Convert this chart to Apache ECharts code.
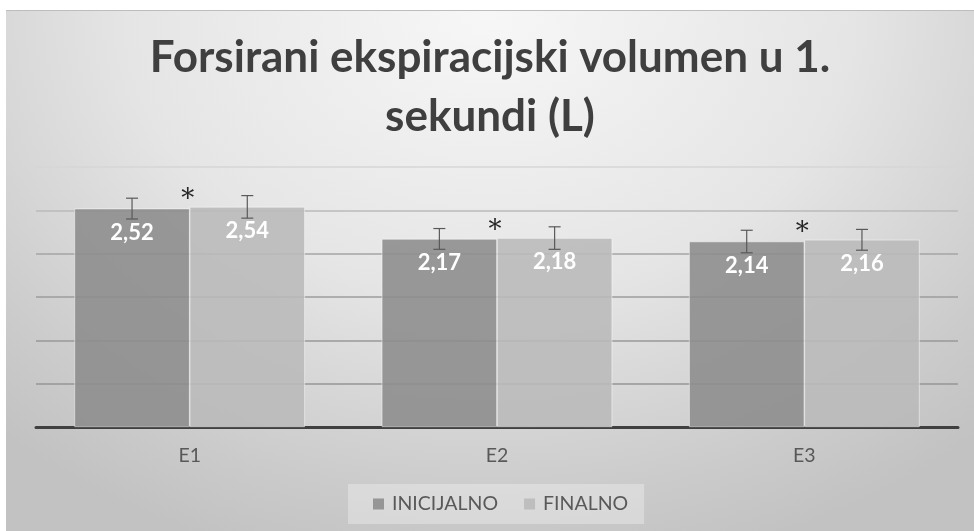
<!DOCTYPE html>
<html lang="hr">
<head>
  <meta charset="UTF-8">
  <title>FEV1</title>
  <script src="https://cdn.jsdelivr.net/npm/echarts@6/dist/echarts.min.js"></script>
  <style>
    html, body { margin: 0; padding: 0; background: #fff; }
    #panel {
      position: absolute; left: 6px; top: 10px; width: 968px; height: 521px;
      border-top: 1px solid #bdbdbd; box-sizing: border-box;
      background: radial-gradient(ellipse 75% 110% at 50% 0%, #f7f7f7 0%, #e5e5e5 50%, #cbcbcb 85%, #c2c2c2 100%);
    }
    #main { width: 968px; height: 521px; }
  </style>
</head>
<body>
<div id="panel"><div id="main"></div></div>
<script type="text/javascript">

var categories = ['E1', 'E2', 'E3'];
var inicijalno = [2.52, 2.17, 2.14];
var finalno = [2.54, 2.18, 2.16];
// standardne devijacije (procjena iz slike)
var errInicijalno = [0.12, 0.12, 0.13];
var errFinalno = [0.13, 0.13, 0.12];
var zvjezdica = [true, true, true];
var yTicks = [0, 0.5, 1, 1.5, 2, 2.5, 3];

var myChart = echarts.init(document.getElementById('main'), null, { renderer: 'canvas' });

function fmt(v) {
  return v.toFixed(2).replace('.', ',');
}

// error bar (+ zvjezdica) za jednu seriju
function makeErrorRender(offsetFrac, withStar) {
  return function (params, api) {
    var idx = api.value(0);
    var val = api.value(1);
    var err = api.value(2);
    var band = api.size([1, 0])[0];
    var cx = api.coord([idx, val])[0] + band * offsetFrac;
    var yTop = api.coord([idx, val + err])[1];
    var yBot = api.coord([idx, val - err])[1];
    var style = { stroke: '#595959', lineWidth: 1.2 };
    var children = [
      { type: 'line', shape: { x1: cx, y1: yTop, x2: cx, y2: yBot }, style: style },
      { type: 'line', shape: { x1: cx - 6, y1: yTop, x2: cx + 6, y2: yTop }, style: style },
      { type: 'line', shape: { x1: cx - 6, y1: yBot, x2: cx + 6, y2: yBot }, style: style }
    ];
    if (withStar && zvjezdica[idx]) {
      var base = api.coord([idx, val]);
      children.push({
        type: 'text',
        style: {
          text: '*', x: base[0] - 2, y: base[1] - 8,
          fill: '#262626', font: '26px "DejaVu Serif"',
          align: 'center', verticalAlign: 'middle'
        }
      });
    }
    return { type: 'group', children: children };
  };
}

var option = {
  animation: false,
  backgroundColor: 'transparent',
  title: {
    text: 'Forsirani ekspiracijski volumen u 1.\nsekundi (L)',
    left: 'center',
    top: 12,
    padding: [5, 5, 5, 17],
    textStyle: {
      fontFamily: 'Lato',
      fontWeight: 'bold',
      fontSize: 44,
      lineHeight: 59,
      color: '#3f3f3f'
    }
  },
  legend: {
    data: ['INICIJALNO', 'FINALNO'],
    bottom: 8,
    left: 342,
    icon: 'rect',
    itemWidth: 11,
    itemHeight: 11,
    itemGap: 26,
    padding: [10, 16, 10, 25],
    backgroundColor: 'rgba(255,255,255,0.3)',
    itemStyle: { borderWidth: 0 },
    textStyle: { fontFamily: 'Lato', fontSize: 19.5, color: '#595959', padding: [0, 0, 0, 3] }
  },
  grid: { left: 30, right: 16, top: 156, bottom: 105 },
  xAxis: {
    type: 'category',
    data: categories,
    axisLine: { lineStyle: { color: '#404040', width: 3 } },
    axisTick: { show: false },
    axisLabel: { fontFamily: 'Lato', fontSize: 19.5, color: '#595959', margin: 19 }
  },
  yAxis: {
    type: 'value',
    min: yTicks[0],
    max: yTicks[yTicks.length - 1],
    interval: 0.5,
    axisLabel: { show: false },
    axisLine: { show: false },
    axisTick: { show: false },
    splitLine: {
      lineStyle: {
        color: ['#9a9a9a', '#969696', '#989898', '#9c9c9c', '#a4a4a4', '#bababa', '#d6d6d6'],
        width: 1.5
      }
    }
  },
  series: [
    {
      name: 'INICIJALNO',
      type: 'bar',
      data: inicijalno,
      barGap: '0%',
      barCategoryGap: '25%',
      itemStyle: { color: 'rgba(140,140,140,0.88)', borderColor: 'rgba(255,255,255,0.8)', borderWidth: 0.6 },
      label: {
        show: true, position: 'insideTop', distance: 13,
        formatter: function (p) { return fmt(p.value); },
        fontFamily: 'Lato', fontWeight: 'bold', fontSize: 22, color: '#fff'
      },
      z: 2
    },
    {
      name: 'FINALNO',
      type: 'bar',
      data: finalno,
      itemStyle: { color: 'rgba(185,185,185,0.88)', borderColor: 'rgba(255,255,255,0.8)', borderWidth: 0.6 },
      label: {
        show: true, position: 'insideTop', distance: 13,
        formatter: function (p) { return fmt(p.value); },
        fontFamily: 'Lato', fontWeight: 'bold', fontSize: 22, color: '#fff'
      },
      z: 2
    },
    {
      name: 'errInicijalno',
      type: 'custom',
      renderItem: makeErrorRender(-0.1875, true),
      data: inicijalno.map(function (v, i) { return [i, v, errInicijalno[i]]; }),
      z: 5,
      silent: true
    },
    {
      name: 'errFinalno',
      type: 'custom',
      renderItem: makeErrorRender(0.1875, false),
      data: finalno.map(function (v, i) { return [i, v, errFinalno[i]]; }),
      z: 5,
      silent: true
    }
  ]
};

myChart.setOption(option);

</script>
</body>
</html>
